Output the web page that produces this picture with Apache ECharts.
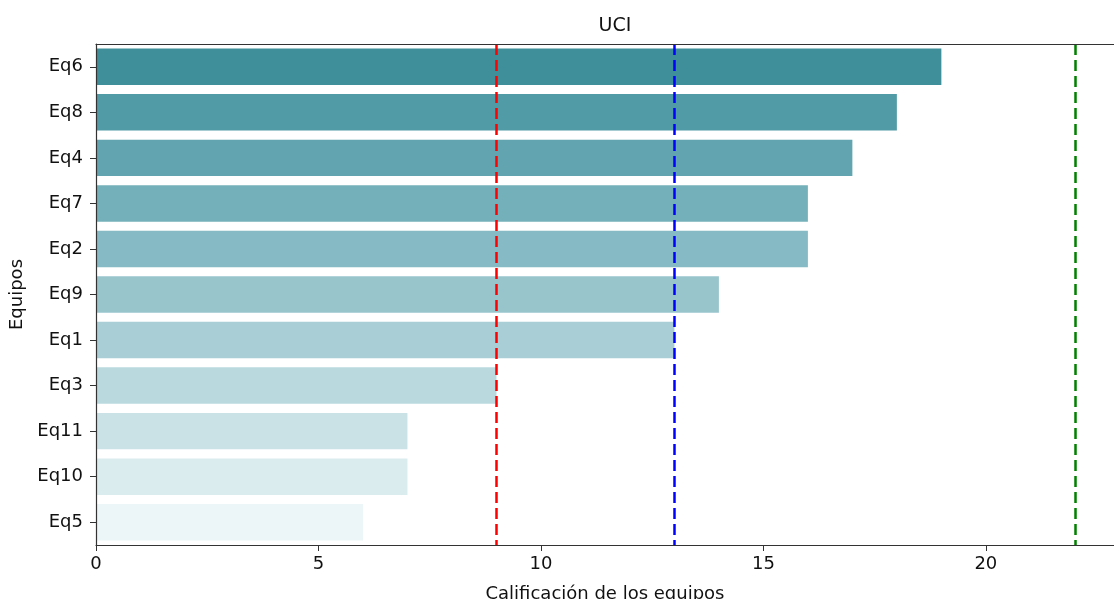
<!DOCTYPE html>
<html>
<head>
<meta charset="utf-8">
<script src="https://cdn.jsdelivr.net/npm/echarts@6/dist/echarts.min.js"></script>
<style>html,body{margin:0;padding:0;background:#fff}#c{width:1114px;height:599px}</style>
</head>
<body>
<div id="c"></div>
<script>
const categories = ['Eq6','Eq8','Eq4','Eq7','Eq2','Eq9','Eq1','Eq3','Eq11','Eq10','Eq5'];
const scores = [19,18,17,16,16,14,13,9,7,7,6];
const barColors = ['#3f8f9a','#519ba6','#62a5b0','#74b0ba','#86bac4','#98c4cc','#a9ced5','#bad9de','#cae2e6','#dbecef','#ecf5f7'];
const refLines = [
  {value: 9, color: '#ff0000'},
  {value: 13, color: '#0000ff'},
  {value: 22, color: '#008000'}
];
const xTicks = [0,5,10,15,20];
const titleText = 'UCI';
const xName = 'Calificación de los equipos';
const yName = 'Equipos';

const font = 'DejaVu Sans';
const chart = echarts.init(document.getElementById('c'), null, {renderer:'canvas'});
chart.setOption({
  animation: false,
  backgroundColor: '#fff',
  title: {
    text: titleText, left: 610, top: 12, textAlign: 'center',
    textStyle: {fontFamily: font, fontSize: 19, fontWeight: 'normal', color: '#111'}
  },
  grid: {left: 96, top: 44, right: 0, bottom: 54, show: false, containLabel: false, outerBoundsMode: 'none'},
  xAxis: [{
    type: 'value', min: 0, max: 22.88, interval: 5, z: 5,
    name: xName, nameLocation: 'middle', nameGap: 40,
    nameTextStyle: {fontFamily: font, fontSize: 18, color: '#111'},
    axisLine: {show: true, lineStyle: {color: '#333', width: 1.2}},
    axisTick: {show: true, length: 6, lineStyle: {color: '#333'}},
    axisLabel: {fontFamily: font, fontSize: 18, color: '#111', margin: 10, showMaxLabel: false,
      formatter: v => xTicks.includes(v) ? String(v) : ''},
    splitLine: {show: false}
  }, {
    type: 'value', position: 'top', min: 0, max: 22.88, z: 5,
    axisLine: {show: true, onZero: false, lineStyle: {color: '#333', width: 1.2}},
    axisTick: {show: false}, axisLabel: {show: false}, splitLine: {show: false}
  }],
  yAxis: {
    type: 'category', data: categories, inverse: true, z: 5,
    name: yName, nameLocation: 'middle', nameGap: 66, nameRotate: 90,
    nameTextStyle: {fontFamily: font, fontSize: 18, color: '#111'},
    axisLine: {show: true, lineStyle: {color: '#333', width: 1.2}},
    axisTick: {show: true, alignWithLabel: true, length: 6, lineStyle: {color: '#333'}},
    axisLabel: {fontFamily: font, fontSize: 18, color: '#111', margin: 13},
    splitLine: {show: false}
  },
  series: [{
    type: 'bar',
    barCategoryGap: '20%',
    data: scores.map((v, i) => ({value: v, itemStyle: {color: barColors[i]}})),
    markLine: {
      symbol: 'none', silent: true, label: {show: false},
      data: refLines.map(r => ({xAxis: r.value, lineStyle: {color: r.color, type: [11, 5], width: 2.5}}))
    }
  }]
});
</script>
</body>
</html>
